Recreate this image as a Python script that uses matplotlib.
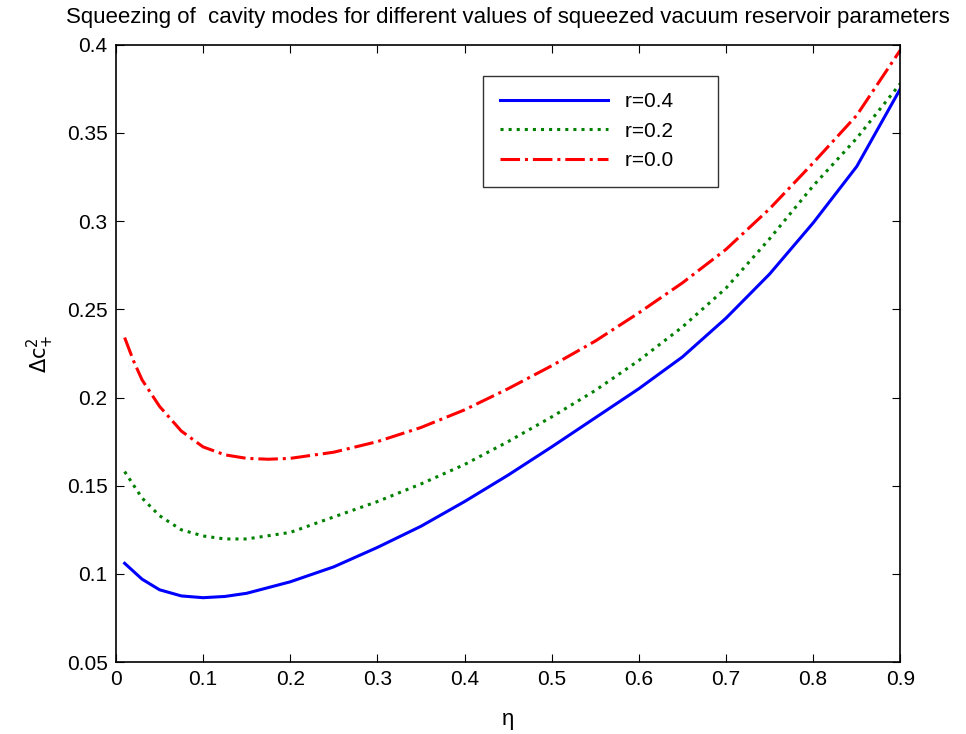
import matplotlib
matplotlib.use("Agg")
import matplotlib.pyplot as plt
from matplotlib import font_manager

# pilih font sempit kalau ada
nama_font = [f.name for f in font_manager.fontManager.ttflist]
if "Liberation Sans Narrow" in nama_font:
    plt.rcParams['font.family'] = ['Liberation Sans Narrow', 'DejaVu Sans']
else:
    plt.rcParams['font.family'] = ['Liberation Sans', 'DejaVu Sans']

# data
eta_biru = [0.01, 0.03, 0.05, 0.075, 0.1, 0.125, 0.15, 0.2, 0.25, 0.3, 0.35, 0.4,
            0.45, 0.5, 0.55, 0.6, 0.65, 0.7, 0.75, 0.8, 0.85, 0.9]
r04 = [0.106, 0.097, 0.091, 0.0875, 0.0865, 0.0872, 0.089, 0.0955, 0.104, 0.115, 0.127, 0.141,
       0.156, 0.172, 0.1885, 0.205, 0.223, 0.245, 0.270, 0.299, 0.331, 0.375]

eta_hijau = [0.01, 0.03, 0.05, 0.075, 0.1, 0.125, 0.15, 0.2, 0.25, 0.3, 0.35, 0.4,
             0.45, 0.5, 0.55, 0.6, 0.65, 0.7, 0.75, 0.8, 0.85, 0.9]
r02 = [0.158, 0.143, 0.133, 0.125, 0.1215, 0.1198, 0.1198, 0.1235, 0.1323, 0.141, 0.151, 0.162,
       0.175, 0.189, 0.204, 0.221, 0.240, 0.262, 0.290, 0.320, 0.347, 0.378]

eta_merah = [0.01, 0.02, 0.03, 0.05, 0.075, 0.1, 0.125, 0.15, 0.175, 0.2, 0.25, 0.3, 0.35,
             0.4, 0.45, 0.5, 0.55, 0.6, 0.65, 0.7, 0.75, 0.8, 0.85, 0.9]
r00 = [0.234, 0.221, 0.210, 0.195, 0.181, 0.172, 0.1675, 0.1655, 0.165, 0.1655, 0.169, 0.175, 0.183,
       0.193, 0.205, 0.218, 0.232, 0.248, 0.265, 0.284, 0.307, 0.333, 0.360, 0.397]

label_x = ['0', '0.1', '0.2', '0.3', '0.4', '0.5', '0.6', '0.7', '0.8', '0.9']
label_y = ['0.05', '0.1', '0.15', '0.2', '0.25', '0.3', '0.35', '0.4']

fig = plt.figure(figsize=(9.66, 7.34), dpi=100)
ax = fig.add_axes([0.120, 0.098, 0.812, 0.841])

ax.plot(eta_biru, r04, color='#0000ff', linestyle='-', linewidth=2.2, label='r=0.4     ')
ax.plot(eta_hijau, r02, color='#008000', linestyle=':', linewidth=2.2, label='r=0.2     ')
ax.plot(eta_merah, r00, color='#ff0000', linestyle='-.', linewidth=2.2, label='r=0.0     ')

ax.set_xlim(0, 0.9)
ax.set_ylim(0.05, 0.4)
ax.set_xticks([i / 10 for i in range(10)])
ax.set_xticklabels(label_x)
ax.set_yticks([0.05 + 0.05 * i for i in range(8)])
ax.set_yticklabels(label_y)
ax.tick_params(direction='in', top=True, right=True, length=6, labelsize=15, pad=6)
for s in ax.spines.values():
    s.set_linewidth(1.2)

ax.set_xlabel('η', fontsize=16, labelpad=14)
ax.set_ylabel(r'$\Delta\mathrm{c}_{+}^{2}$', fontsize=15, labelpad=8)
ax.set_title('Squeezing of  cavity modes for different values of squeezed vacuum reservoir parameters',
             fontsize=16, pad=16)

leg = ax.legend(loc='upper left', bbox_to_anchor=(0.468, 0.95), fontsize=15,
                handlelength=5.2, handletextpad=0.8, frameon=True, fancybox=False,
                edgecolor='black', borderpad=0.8, labelspacing=0.5, borderaxespad=0)
leg.get_frame().set_linewidth(1.0)

fig.savefig('out.png', dpi=100)
